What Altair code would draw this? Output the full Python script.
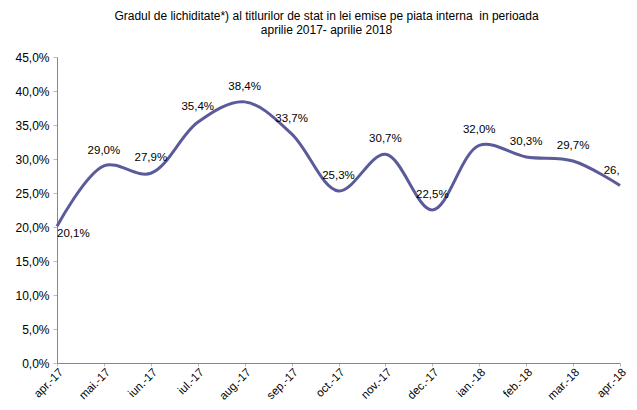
import altair as alt
import pandas as pd

months = ["apr.-17", "mai.-17", "iun.-17", "iul.-17", "aug.-17", "sep.-17", "oct.-17",
          "nov.-17", "dec.-17", "ian.-18", "feb.-18", "mar.-18", "apr.-18"]
values = [0.201, 0.290, 0.279, 0.354, 0.384, 0.337, 0.253, 0.307, 0.225, 0.320, 0.303, 0.297, 0.261]
title_lines = ["Gradul de lichiditate*) al titlurilor de stat in lei emise pe piata interna\u00a0 in perioada",
               "aprilie 2017- aprilie 2018"]

df = pd.DataFrame({"luna": months, "val": values, "idx": list(range(len(months)))})

FONT = "Liberation Sans"
LINE = "#5B5B9B"

x = alt.X("luna:N", sort=months, title=None,
          scale=alt.Scale(type="point", padding=0),
          axis=alt.Axis(labelAngle=-45, labelAlign="right", labelBaseline="top",
                        labelFontSize=11.5, labelFont=FONT, labelColor="#000",
                        domainColor="#888", tickColor="#bbb", tickSize=3,
                        labelPadding=0, labelOverlap=False))
y = alt.Y("val:Q", title=None,
          scale=alt.Scale(domain=[0, 0.45], nice=False),
          axis=alt.Axis(values=[i * 0.05 for i in range(10)],
                        labelExpr="replace(format(datum.value, '.1%'), '.', ',')",
                        labelFontSize=12, labelFont=FONT, labelColor="#000",
                        domainColor="#888", tickColor="#bbb", tickSize=4,
                        labelPadding=4, grid=False))

base = alt.Chart(df).encode(x=x, y=y)

line = base.mark_line(color=LINE, strokeWidth=3, interpolate="catmull-rom")

labels = base.transform_filter("datum.idx > 0").transform_calculate(
    lab="replace(format(datum.val, '.1%'), '.', ',')"
).mark_text(font=FONT, fontSize=11.5, color="#000", dy=-15, clip=True).encode(text="lab:N")

first = base.transform_filter("datum.idx == 0").transform_calculate(
    lab="replace(format(datum.val, '.1%'), '.', ',')"
).mark_text(font=FONT, fontSize=11.5, color="#000", align="left", dx=0, dy=8).encode(text="lab:N")

chart = alt.layer(line, labels, first).properties(
    width=621, height=394,
    autosize=alt.AutoSizeParams(type="fit", contains="padding"),
    padding={"left": 6, "top": 2, "right": 0, "bottom": 0},
    title=alt.TitleParams(title_lines, anchor="middle", fontSize=12, font=FONT,
                          fontWeight="normal", color="#000", offset=14, dx=-12,
                          lineHeight=14),
).configure_view(stroke=None)

chart.save("out.html", embed_options={"renderer": "svg", "actions": False})
